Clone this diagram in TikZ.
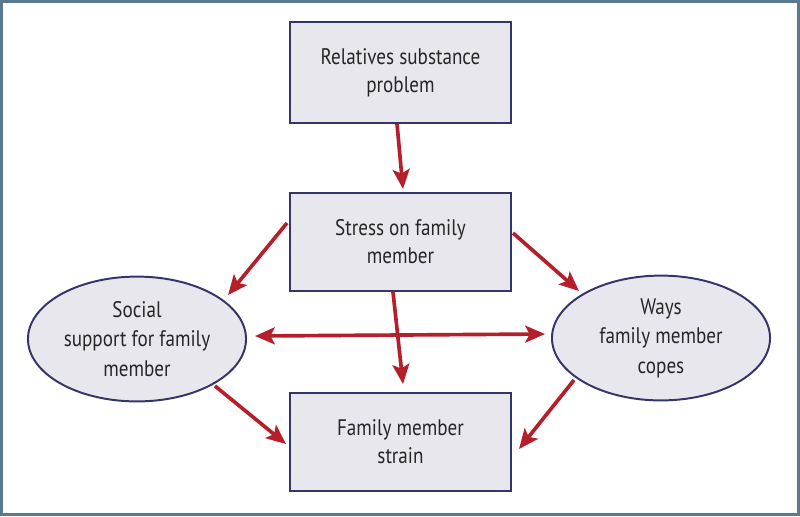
\documentclass[tikz,border=0pt]{standalone}
\usepackage{fontspec}
\setmainfont{PT Sans}[FakeStretch=0.85]
\usetikzlibrary{shapes.geometric,arrows.meta,calc}

\definecolor{framecol}{HTML}{5A7890}
\definecolor{boxfill}{HTML}{E9E7EE}
\definecolor{boxline}{HTML}{35356A}
\definecolor{arrowred}{HTML}{B51F2B}

\tikzset{
  box/.style={draw=boxline, fill=boxfill, line width=1.4pt, minimum width=5.525cm,
    inner sep=0pt, align=center, text=black!85, font=\fontsize{16}{20}\selectfont},
  oval/.style={ellipse, draw=boxline, fill=boxfill, line width=1.4pt, minimum width=5.45cm,
    minimum height=3.12cm, inner sep=0pt, align=center, text=black!85,
    font=\fontsize{16}{21}\selectfont},
  link/.style={draw=arrowred, line width=2.6pt, -{Stealth[length=14pt,width=12pt,inset=3pt]}},
  both/.style={link, {Stealth[length=14pt,width=12pt,inset=3pt]}-{Stealth[length=14pt,width=12pt,inset=3pt]}}
}

\begin{document}
\begin{tikzpicture}[x=0.025cm,y=-0.025cm]
\useasboundingbox (0,0) rectangle (800,516);
\draw[framecol, line width=1.8pt] (1.3,1.3) rectangle (798.7,514.7);

% boxes
\node[box, minimum height=2.525cm] (subst) at (400.5,72.5) {Relatives substance\\problem};
\node[box, minimum height=2.45cm] (stress) at (400.5,242) {Stress on family\\member};
\node[box, minimum height=2.45cm] (strain) at (400.5,442) {Family member\\strain};

% ellipses
\node[oval] (support) at (137,339) {Social\\support for family\\member};
\node[oval] (copes) at (661,338) {Ways\\family member\\copes};

% arrows
\draw[link] ($(subst.south)+(-3.5,0)$) -- ($(stress.north)+(2.5,-3)$);
\draw[link] ($(stress.west)+(-2,-19)$) -- ($(support)+(91,-44)$);
\draw[link] ($(stress.east)+(1,-9)$) -- ($(copes)+(-82,-47)$);
\draw[link] ($(stress.south)+(-7.5,0)$) -- ($(strain.north)+(2.5,-8)$);
\draw[both] ($(support)+(118,-3)$) -- ($(copes)+(-116,-4)$);
\draw[link] ($(support)+(78,47)$) -- ($(strain.west)+(-3,2)$);
\draw[link] ($(copes)+(-87,42)$) -- ($(strain.east)+(7,7)$);
\end{tikzpicture}
\end{document}
